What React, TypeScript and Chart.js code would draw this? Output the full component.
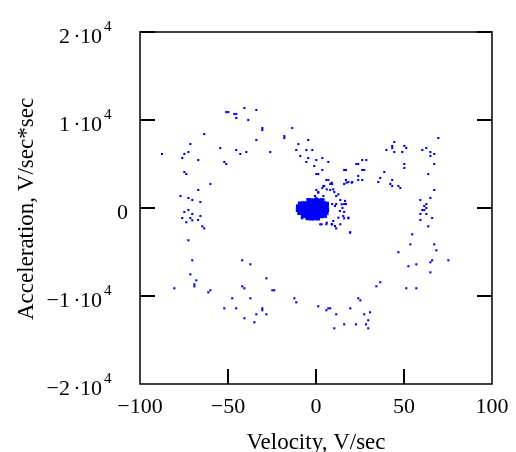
import React, { useEffect, useRef } from "react";
import { Chart, registerables } from "chart.js";

Chart.register(...registerables);

// Scattered phase-portrait points (velocity V/sec, acceleration V/sec*sec)
const ringVelocity = [
  -87.5, -76, -74.8, -72.5, -71.4, -63.5, -66.9, -74.8, -73.7, -54.4, -52.1, -51, -51, -49.8, -46.4, -45.3,
  -45.3, -40.7, -33.9, -38.5, -30.5, -30.5, -33.9, -45.3, -43, -39.6, -26, -18, -18, -13.5, -10, -4.4,
  -11.2, -5.5, -2.1, -8.9, -4.4, -5.5, 0.2, -1, 0.2, 1.3, -60, -66.9, -77, -72.5, -70.3, -65.7,
  -74.8, -72.5, -76, -70.3, -65.7, -71.4, -67, 0.2, 1.3,
  -73.7, -70.3, -64.6, -63.5, -72.5, -70.3, -71.4, -68, -69.1, -69.1, -80.5, -61.2, -60, -41.9, -37.3, -28.2,
  -41.9, -40.7, -24.8, -23.7, -47.6, -37.3, -52.1, -45.3, -30.5, -30.5, -33.9, -28.2, -40.7, -35, -12.3, -11.2,
  1.3, -7.8, 2.4,
  3.6, 7, 3.6, 5.9, 7, 8.1, 9.2, 3.6, 4.7, 8.1, 10.4, 0.2, 13.8, 9.2, 11.5, 16,
  17, 11.5, 15, 16, 16, 17, 16, 18.4, 17, 20.6, 24, 24, 26.3, 22.9, 24, 26.3,
  28.6, 26.3, 27.4, 38.8, 36.5, 35.4, 43.3, 42.2, 43.3, 46.8, 47.9, 40, 43.3, 43.3, 44.5, 44.5,
  49, 50.2, 51.3, 50.2, 50.2, 60.4, 62.7, 65, 65, 67.2, 69.5, 67.2, 63.8, 67.2, 65, 59.3,
  62.7, 61.5, 62.7, 61.5, 60.4, 59.3, 62.7, 66, 59.3,
  63.8, 54.7, 53.6, 67.2, 68.4, 46.8, 66, 65, 75.2, 57, 52.5, 65, 36.5, 34.3, 51.3, 57,
  24, 25.2, 5.9, 7, 8.1, 19.5, 30.7, 11.5, 27.4, 29.7, 16, 22.7, 28.4, 10.4, 29.7, 19.5,
  18.4, 16, 13.8, 11.5, 5.9, 9.2,
  4.2, 8.9, 6.1, 9.8, 12.7, 4.2, 1.3, -0.6, 17.4, 20.3, 10.8, 14.6, 16.5, 13.6, 15.5, 12.7,
  9.8, 6.1, 3.2, 8.9, 10.8, 18.4, 19.3, -8.1,
];

const ringAcceleration = [
  6140, 5680, 6140, 6360, 7270, 8400, 5450, 4090, 3860, 6800, 5230, 5000, 10900, 10900, 10680, 10680,
  10230, 11360, 11140, 10000, 9090, 8860, 7730, 6590, 6140, 6360, 6360, 8180, 7950, 9090, 7270, 7730,
  6590, 6590, 6590, 5910, 5680, 5230, 5450, 4770, 3860, 3860, 2730, 2050, 1360, 1140, 910, 680,
  -450, -230, -1140, -680, -910, -1140, -1360, 2050, 1820,
  -1620, -1400, -2080, -2310, -3670, -5940, -7540, -8220, -8670, -8900, -9120, -9580, -9350, -5940, -6400, -7990,
  -8900, -9120, -9350, -9350, -10260, -10260, -11400, -11400, -11400, -11620, -12080, -12080, -12530, -12990, -10260, -10720,
  -11170, -1170, -1850,
  5680, 5230, 4320, 3180, 3180, 2730, 2730, 2270, 2500, 2050, 1820, 1140, 910, 450, 450, 450,
  450, 1360, 0, -450, 4320, 4320, 2730, 2950, 3180, 2950, 3640, 3180, 3180, 5000, 5000, 5450,
  5450, 4320, 4320, 4090, 3410, 2950, 3180, 2730, 2500, 2500, 2270, 6590, 7050, 6820, 7500, 6360,
  6360, 7050, 6820, 5000, 4550, 6590, 6820, 6360, 5910, 6140, 7950, 5000, 3860, 2050, 1140, 910,
  450, 230, 0, -230, -230, -680, -680, -1140, -1360,
  -2080, -2990, -4130, -4130, -4810, -5030, -5940, -6170, -5940, -6400, -6620, -7310, -8440, -8900, -9120, -9120,
  -10260, -10490, -11620, -11400, -11400, -11400, -11850, -12080, -12080, -12760, -13220, -13220, -13220, -13670, -13670, -2760,
  -1170, -1170, -1850, -2310, -1850, -1850,
  2500, 2880, 2120, 2120, 1550, 1360, 1740, 1360, 2880, 2880, 230, 420, 800, -340, -910, -1100,
  -1480, -1670, -1850, -1850, -2050, -1100, -2800, -1100,
];

// Dense cluster of points around the origin
const clusterVelocity = [
  -4.2, -2.1, 0.1, 2.0, 3.6,
  -9.0, -7.1, -5.0, -3.1, -0.9, 1.1, 3.0, 4.9, 6.1,
  -10.1, -8.0, -6.1, -3.9, -2.0, 0.0, 2.1, 3.9, 6.0,
  -10.2, -8.1, -5.9, -4.0, -2.1, 0.1, 1.9, 4.1, 6.2,
  -9.4, -7.5, -5.6, -3.4, -1.5, 0.6, 2.4, 4.4, 5.9,
  -7.2, -5.1, -2.9, -1.0, 1.1, 3.0, 5.0,
  -4.6, -2.4, -0.5, 1.0,
];
const clusterAcceleration = [
  880, 840, 870, 820, 860,
  480, 520, 470, 510, 490, 530, 470, 500, 450,
  160, 120, 170, 140, 180, 130, 160, 120, 150,
  -190, -230, -180, -220, -170, -210, -190, -230, -200,
  -540, -580, -520, -560, -530, -570, -540, -580, -520,
  -880, -920, -890, -930, -880, -910, -870,
  -1140, -1170, -1130, -1160,
];

const xMin = -100;
const xMax = 100;
const yMin = -20000;
const yMax = 20000;
const xTickValues = [-100, -50, 0, 50, 100];
const xTickLabels = ["\u2212100", "\u221250", "0", "50", "100"];
const xTickMarks = [-50, 0, 50];
const yTickValues = [20000, 10000, 0, -10000, -20000];
const yTickMantissa = ["2", "1", "0", "\u22121", "\u22122"];
const yTickExponent = ["4", "4", "", "4", "4"];
const yTickMarks = [20000, 10000, 0, -10000];
const xTitle = "Velocity, V/sec";
const yTitle = "Acceleration, V/sec*sec";

const FONT = '"Liberation Serif", "Times New Roman", serif';

const framePlugin = {
  id: "mathcadFrame",
  afterDraw(chart: any) {
    const { ctx, chartArea: a, scales } = chart;
    const xs = scales.x;
    const ys = scales.y;
    ctx.save();
    ctx.strokeStyle = "#000";
    ctx.lineWidth = 1.5;
    ctx.strokeRect(a.left, a.top, a.right - a.left, a.bottom - a.top);

    ctx.lineWidth = 2;
    ctx.beginPath();
    yTickMarks.forEach((v) => {
      const py = Math.round(ys.getPixelForValue(v));
      ctx.moveTo(a.left, py);
      ctx.lineTo(a.left + 15, py);
      ctx.moveTo(a.right, py);
      ctx.lineTo(a.right - 15, py);
    });
    xTickMarks.forEach((v) => {
      const px = Math.round(xs.getPixelForValue(v));
      ctx.moveTo(px, a.bottom);
      ctx.lineTo(px, a.bottom - 15);
    });
    ctx.stroke();

    ctx.fillStyle = "#000";
    ctx.textBaseline = "alphabetic";
    ctx.font = `22px ${FONT}`;
    ctx.textAlign = "center";
    xTickValues.forEach((v, i) => {
      const px = xs.getPixelForValue(v);
      ctx.fillText(xTickLabels[i], px, a.bottom + 29);
    });

    yTickValues.forEach((v, i) => {
      const py = ys.getPixelForValue(v);
      const base = py + 11;
      ctx.font = `22px ${FONT}`;
      if (yTickExponent[i]) {
        ctx.textAlign = "right";
        ctx.fillText(yTickMantissa[i], a.left - 70, base);
        ctx.textAlign = "center";
        ctx.fillText("\u00B7", a.left - 63, base);
        ctx.textAlign = "left";
        ctx.fillText("10", a.left - 60, base);
        ctx.font = `15px ${FONT}`;
        ctx.fillText(yTickExponent[i], a.left - 36, py - 1);
      } else {
        ctx.textAlign = "center";
        ctx.fillText(yTickMantissa[i], a.left - 17.5, base);
      }
    });

    ctx.font = `23px ${FONT}`;
    ctx.textAlign = "center";
    ctx.fillText(xTitle, (a.left + a.right) / 2, a.bottom + 65);

    ctx.translate(33, (a.top + a.bottom) / 2 + 1);
    ctx.rotate(-Math.PI / 2);
    ctx.fillText(yTitle, 0, 0);
    ctx.restore();
  },
};

export default function App() {
  const ref = useRef<HTMLCanvasElement | null>(null);
  useEffect(() => {
    if (!ref.current) return;
    const ring = ringVelocity.map((x, i) => ({ x, y: ringAcceleration[i] }));
    const cluster = clusterVelocity.map((x, i) => ({ x, y: clusterAcceleration[i] }));
    const chart = new Chart(ref.current, {
      type: "scatter",
      data: {
        datasets: [
          {
            data: ring,
            pointStyle: "rect",
            pointRadius: 1.5,
            pointBorderWidth: 0,
            backgroundColor: "#0000ff",
            borderColor: "#0000ff",
          },
          {
            data: cluster,
            pointStyle: "rect",
            pointRadius: 3.2,
            pointBorderWidth: 0,
            backgroundColor: "#0000ff",
            borderColor: "#0000ff",
          },
        ],
      },
      options: {
        responsive: false,
        animation: false,
        devicePixelRatio: 1,
        events: [],
        layout: { padding: { left: 140, right: 24, top: 32, bottom: 68 } },
        plugins: { legend: { display: false }, tooltip: { enabled: false } },
        scales: {
          x: { type: "linear", min: xMin, max: xMax, display: false },
          y: { type: "linear", min: yMin, max: yMax, display: false },
        },
      },
      plugins: [framePlugin],
    });
    return () => chart.destroy();
  }, []);
  return (
    <div style={{ position: "fixed", left: 0, top: 0, width: 516, height: 452, background: "#fff" }}>
      <canvas ref={ref} width={516} height={452} style={{ display: "block" }} />
    </div>
  );
}
